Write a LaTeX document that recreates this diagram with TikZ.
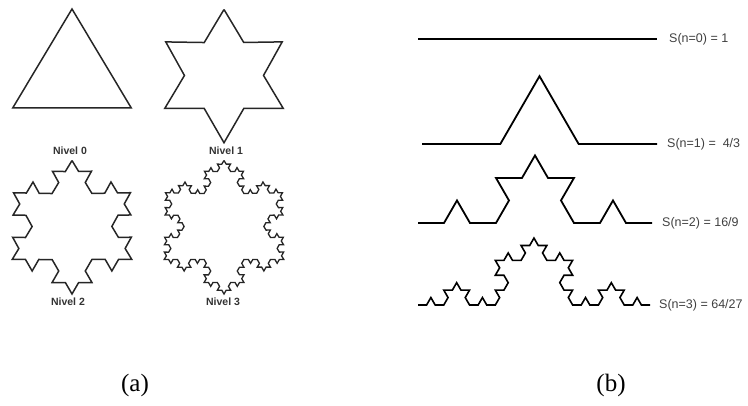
\documentclass[tikz,border=0pt]{standalone}
\usepackage{fontspec}
\setmainfont{Liberation Serif}
\newfontfamily\arialfont{Liberation Sans}
\usetikzlibrary{decorations.fractals}

\begin{document}
\begin{tikzpicture}[x=1pt,y=-1pt,
  flake/.style={draw=black!85,line width=1.5pt,line join=miter,decoration=Koch snowflake},
  curve/.style={draw=black,line width=1.8pt,line join=miter,decoration=Koch snowflake},
  levellabel/.style={font=\arialfont\bfseries\fontsize{10.5}{12}\selectfont,text=black!80,inner sep=0pt},
  sizelabel/.style={font=\arialfont\fontsize{12.5}{14}\selectfont,text=black!75,anchor=west,inner sep=0pt},
  caption/.style={font=\fontsize{25}{28}\selectfont,inner sep=0pt}]
\useasboundingbox (0,0) rectangle (748,406);

% (a) Koch snowflake, levels 0 to 3
\draw[flake] (72,9) -- (131.3,108) -- (12.7,108) -- cycle;
\draw[flake] decorate{ (224,9.5) -- (283.3,108.5) -- (164.7,108.5) -- cycle };
\draw[flake] decorate{ decorate{ (72,160.5) -- (131.8,259.5) -- (12.2,259.5) -- cycle }};
\draw[flake,line width=1.3pt] decorate{ decorate{ decorate{ (224,160.5) -- (283.8,259.5) -- (164.2,259.5) -- cycle }}};

\node[levellabel] (nivel0) at (70,151) {Nivel 0};
\node[levellabel] (nivel1) at (226,151) {Nivel 1};
\node[levellabel] (nivel2) at (68,302) {Nivel 2};
\node[levellabel] (nivel3) at (223,302) {Nivel 3};

% (b) Koch curve, levels 0 to 3
\draw[curve] (418,39) -- (657,39);
\draw[curve] decorate{ (422,144) -- (657,144) };
\draw[curve] decorate{ decorate{ (418,223) -- (652,223) }};
\draw[curve,line width=1.6pt] decorate{ decorate{ decorate{ (418,305) -- (650,305) }}};

\node[sizelabel] (s0) at (669,39) {S(n=0) = 1};
\node[sizelabel] (s1) at (667,144) {S(n=1) = \ 4/3};
\node[sizelabel] (s2) at (662,223) {S(n=2) = 16/9};
\node[sizelabel] (s3) at (659,305) {S(n=3) = 64/27};

\node[caption] (capa) at (135,385) {(a)};
\node[caption] (capb) at (611,385) {(b)};
\end{tikzpicture}
\end{document}
